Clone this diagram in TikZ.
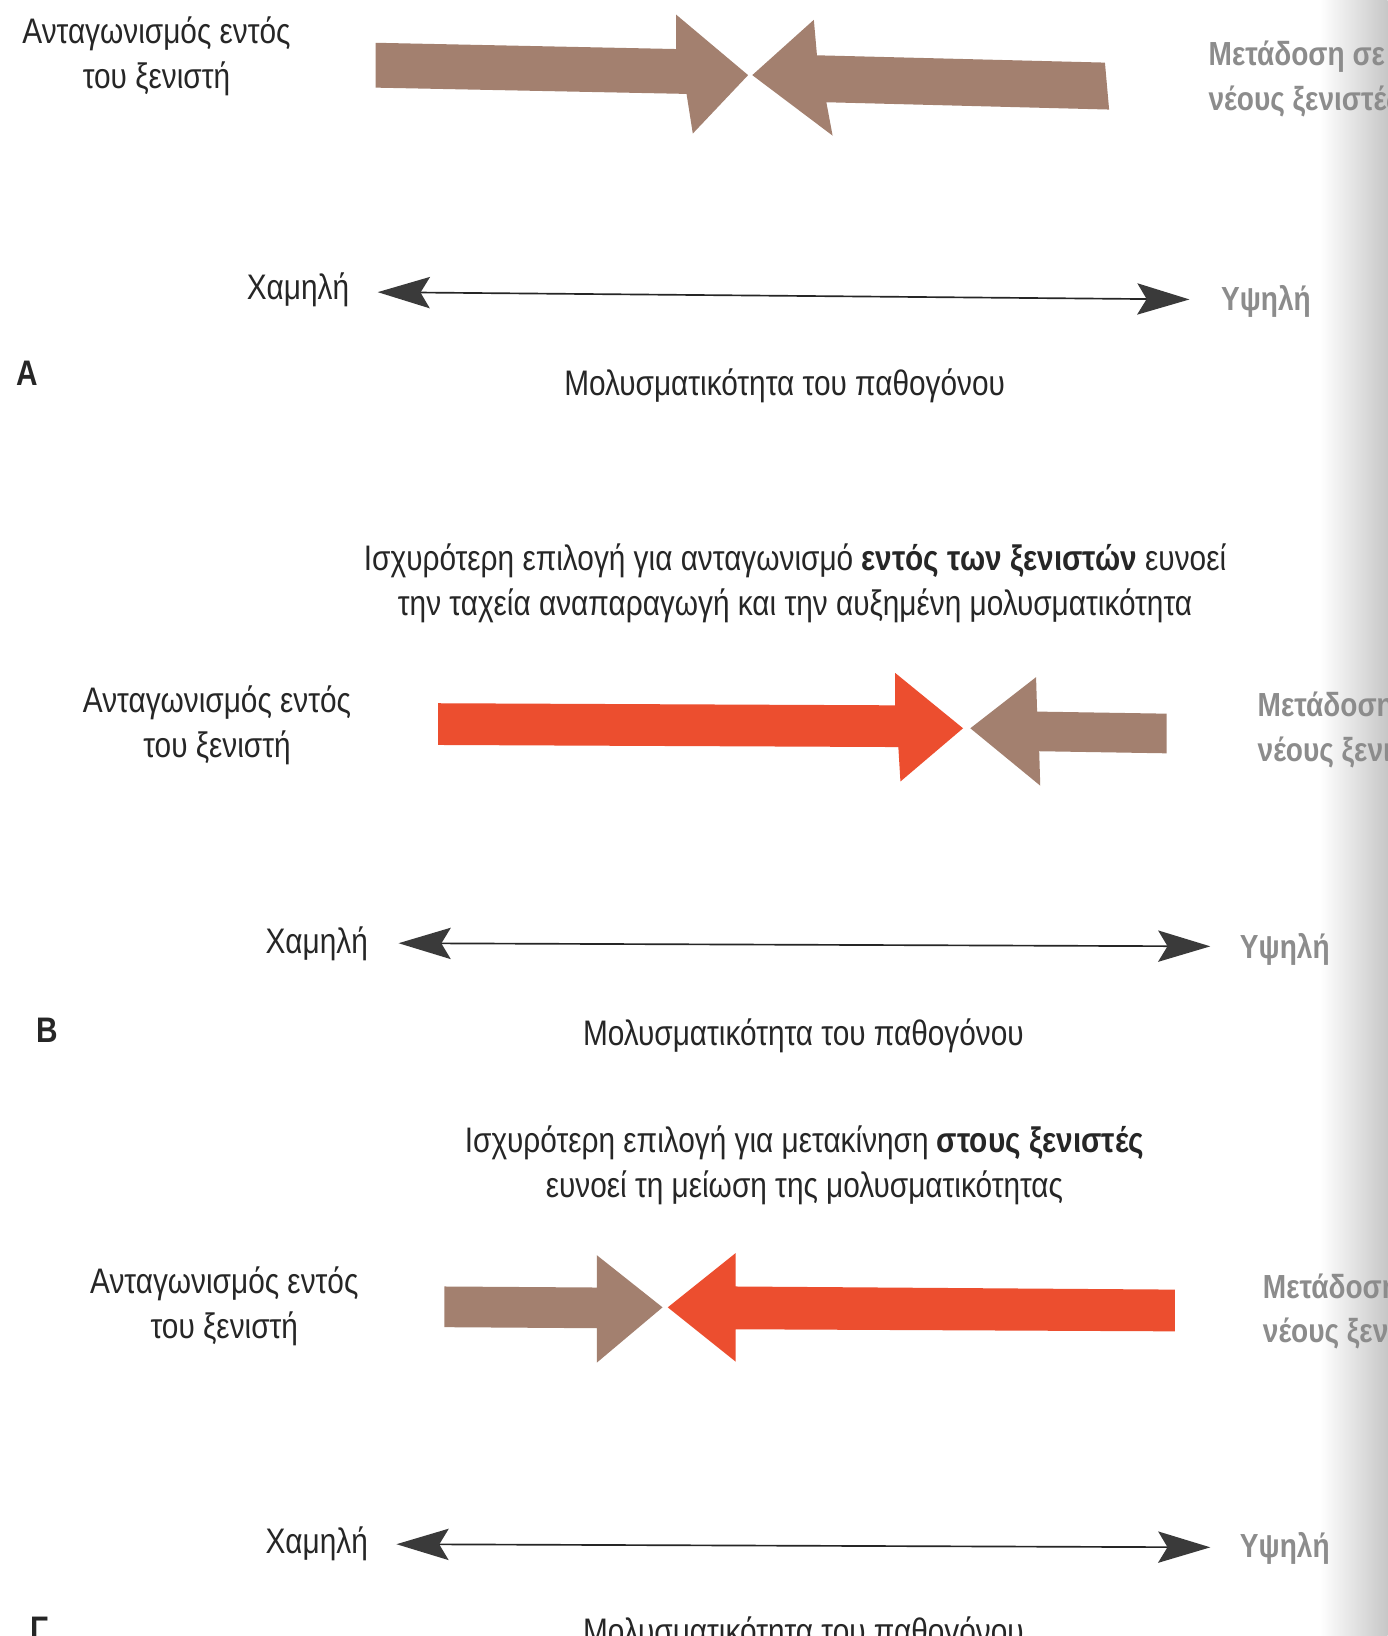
\documentclass[tikz,border=0pt]{standalone}
\usepackage{fontspec}
\setmainfont{Liberation Sans}[FakeStretch=0.84]
\usetikzlibrary{arrows.meta}
\definecolor{brownA}{HTML}{A3806F}
\definecolor{redA}{HTML}{EC4E2F}
\definecolor{headgray}{HTML}{3A3A3A}
\definecolor{fadegray}{HTML}{8C8C8C}
\definecolor{txt}{HTML}{262626}
\tikzset{
  lbl/.style={font=\fontsize{17}{21.5}\selectfont, text=txt, inner sep=0pt, align=center},
  fadetxt/.style={font=\fontsize{16}{21.5}\selectfont\bfseries, text=fadegray, inner sep=0pt, align=left, anchor=west},
  panellbl/.style={font=\fontsize{17}{21}\selectfont\bfseries, text=txt, inner sep=0pt},
  axisline/.style={line width=0.8pt, draw=black!85,
    {Stealth[length=25pt,width=15pt,inset=4.5pt,color=headgray]}-{Stealth[length=25pt,width=15pt,inset=4.5pt,color=headgray]}},
  brownarrow/.style={fill=brownA},
  redarrow/.style={fill=redA}
}
\begin{document}
\begin{tikzpicture}[x=0.5pt,y=-0.5pt]
\clip (0,0) rectangle (1330,1568);
\fill[white] (0,0) rectangle (1330,1568);
\shade[left color=white, right color=black!22] (1265,0) rectangle (1330,1568);

%% ---------------- Panel A ----------------
\node[lbl] (compA) at (150,54) {Ανταγωνισμός εντός\\του ξενιστή};
\fill[brownarrow] (360,41) -- (648,47) -- (648,14) -- (717,72) -- (664,128) -- (658,90) -- (360,84) -- cycle;
\fill[brownarrow] (721,72) -- (780,19) -- (783,53) -- (1059,60) -- (1063,105) -- (792,98) -- (798,130) -- cycle;
\node[fadetxt] (transA) at (1158,76) {Μετάδοση σε\\νέους ξενιστές};
\node[lbl, anchor=east] (lowA) at (335,278) {Χαμηλή};
\node[fadetxt] (highA) at (1170,289) {Υψηλή};
\coordinate (la) at (362,280);
\coordinate (ra) at (1140,287);
\draw[axisline] (la) -- (ra);
\node[panellbl] (pA) at (26,358) {A};
\node[lbl] (infA) at (752,370) {Μολυσματικότητα του παθογόνου};

%% ---------------- Panel B ----------------
\node[lbl] (titleB) at (762,559) {Ισχυρότερη επιλογή για ανταγωνισμό \textbf{εντός των ξενιστών} ευνοεί\\την ταχεία αναπαραγωγή και την αυξημένη μολυσματικότητα};
\node[lbl] (compB) at (208,695) {Ανταγωνισμός εντός\\του ξενιστή};
\fill[redarrow] (420,674) -- (858,676) -- (858,645) -- (923,698) -- (863,749) -- (861,716) -- (420,714) -- cycle;
\fill[brownarrow] (930,698) -- (993,649) -- (994,682) -- (1118,684) -- (1118,722) -- (996,720) -- (997,753) -- cycle;
\node[fadetxt] (transB) at (1205,700) {Μετάδοση σε\\νέους ξενιστές};
\node[lbl, anchor=east] (lowB) at (353,905) {Χαμηλή};
\node[fadetxt] (highB) at (1188,910) {Υψηλή};
\coordinate (lb) at (382,904);
\coordinate (rb) at (1160,907);
\draw[axisline] (lb) -- (rb);
\node[panellbl] (pB) at (45,987) {B};
\node[lbl] (infB) at (770,993) {Μολυσματικότητα του παθογόνου};

%% ---------------- Panel C ----------------
\node[lbl] (titleC) at (771,1117) {Ισχυρότερη επιλογή για μετακίνηση \textbf{στους ξενιστές}\\ευνοεί τη μείωση της μολυσματικότητας};
\node[lbl] (compC) at (215,1252) {Ανταγωνισμός εντός\\του ξενιστή};
\fill[brownarrow] (426,1233) -- (572,1234) -- (572,1203) -- (635,1253) -- (572,1306) -- (572,1273) -- (426,1272) -- cycle;
\fill[redarrow] (640,1253) -- (705,1201) -- (705,1233) -- (1126,1236) -- (1126,1276) -- (705,1274) -- (705,1305) -- cycle;
\node[fadetxt] (transC) at (1210,1257) {Μετάδοση σε\\νέους ξενιστές};
\node[lbl, anchor=east] (lowC) at (353,1480) {Χαμηλή};
\node[fadetxt] (highC) at (1188,1484) {Υψηλή};
\coordinate (lc) at (380,1480);
\coordinate (rc) at (1160,1483);
\draw[axisline] (lc) -- (rc);
\node[panellbl] (pC) at (38,1562) {Γ};
\node[lbl] (infC) at (770,1566) {Μολυσματικότητα του παθογόνου};
\end{tikzpicture}
\end{document}
